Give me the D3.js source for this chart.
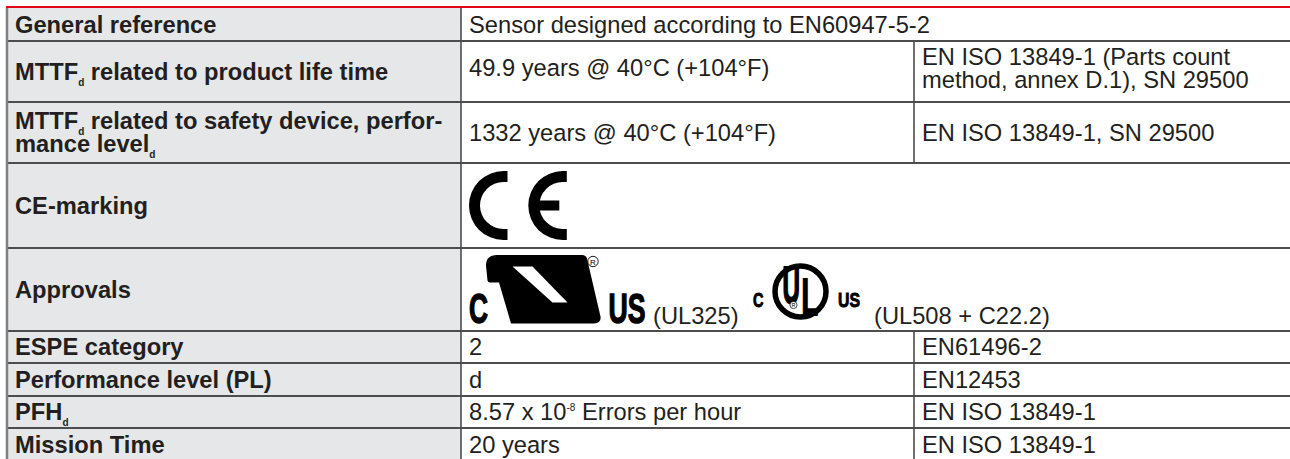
<!DOCTYPE html>
<html>
<head>
<meta charset="utf-8">
<script src="https://cdn.jsdelivr.net/npm/d3@7"></script>
<style>
  html, body { margin: 0; padding: 0; background: #fff; }
  svg { display: block; }
</style>
</head>
<body>
<svg id="table" width="1290" height="459"></svg>
<script>
// Table content: "|" = line break, "_{..}" = subscript, "^{..}" = superscript
const labels = [
    "General reference",
    "MTTF_{d} related to product life time",
    "MTTF_{d} related to safety device, perfor-|mance level_{d}",
    "CE-marking",
    "Approvals",
    "ESPE category",
    "Performance level (PL)",
    "PFH_{d}",
    "Mission Time"
];
const values = [
    "Sensor designed according to EN60947-5-2",
    "49.9 years @ 40°C (+104°F)",
    "1332 years @ 40°C (+104°F)",
    "[CE]",
    "[UL]",
    "2",
    "d",
    "8.57 x 10^{-8} Errors per hour",
    "20 years"
];
const standards = [
    null,
    "EN ISO 13849-1 (Parts count|method, annex D.1), SN 29500",
    "EN ISO 13849-1, SN 29500",
    null,
    null,
    "EN61496-2",
    "EN12453",
    "EN ISO 13849-1",
    "EN ISO 13849-1"
];
const approvalNotes = ["(UL325)", "(UL508 + C22.2)"];

// Layout
const rowHeights = [33, 61, 61, 85, 83, 32, 33, 32, 33];
const tableTop = 8;
const colEdges = [7, 461, 914, 1300]; // left edge, dividers, right edge
const pad = 8;
const fontSize = 23.7;
const lineHeight = 22.7;
const textColor = "#231f20";
const lineColor = "#4d4d4d";

const svg = d3.select("#table");
const rowTops = Array.from(d3.cumsum([tableTop, ...rowHeights])); // [8, 41, 102, ...]
const rowTop = (i) => rowTops[i];
const rowMid = (i) => rowTop(i) + rowHeights[i] / 2;

// Label column background
svg.append("rect")
    .attr("x", colEdges[0])
    .attr("y", tableTop)
    .attr("width", colEdges[1] - colEdges[0])
    .attr("height", 459 - tableTop)
    .attr("fill", "#e6e7e8");

// Write a string with sub/superscripts into a <text> element
const addRich = (textSel, str, small) => {
    let shift = 0;
    str.split(/(_\{[^}]*\}|\^\{[^}]*\})/).filter(s => s.length).forEach(part => {
        let s = 0, txt = part, size = null;
        if (part.startsWith("_{")) { s = 6; txt = part.slice(2, -1); size = small; }
        if (part.startsWith("^{")) { s = -9; txt = part.slice(2, -1); size = small; }
        const t = textSel.append("tspan").attr("dy", s - shift).text(txt);
        if (size) t.attr("font-size", size);
        shift = s;
    });
};

// Draw a (possibly multi-line) cell text, centred vertically in the row
const cellText = (str, x, i, bold, dy = 0) => {
    const lines = str.split("|");
    lines.forEach((line, k) => {
        const y = rowMid(i) + 8.3 + dy - (lines.length - 1) * lineHeight / 2 + k * lineHeight;
        const t = svg.append("text")
            .attr("x", x)
            .attr("y", y)
            .attr("font-family", "'Liberation Sans', Arial, sans-serif")
            .attr("font-size", fontSize)
            .attr("font-weight", bold ? "bold" : "normal")
            .attr("fill", textColor);
        addRich(t, line, 10);
    });
};

labels.forEach((d, i) => cellText(d, colEdges[0] + pad, i, true));
// value cells of the tall rows sit a bit above the centre
values.forEach((d, i) => { if (!d.startsWith("[")) cellText(d, colEdges[1] + pad, i, false, i === 1 ? -4 : 0); });
standards.forEach((d, i) => { if (d) cellText(d, colEdges[2] + pad, i, false, i === 1 ? -3 : 0); });

// CE mark: one letter = partial ring with flat ends
const ceLetter = (cx, cy, R, t, ext) => {
    const p = d3.path();
    p.moveTo(cx + ext, cy - R);
    p.lineTo(cx, cy - R);
    p.arc(cx, cy, R, -Math.PI / 2, Math.PI / 2, true);
    p.lineTo(cx + ext, cy + R);
    p.lineTo(cx + ext, cy + R - t);
    p.lineTo(cx, cy + R - t);
    p.arc(cx, cy, R - t, Math.PI / 2, -Math.PI / 2, false);
    p.lineTo(cx + ext, cy - R + t);
    p.closePath();
    return p.toString();
};

const ceRow = values.indexOf("[CE]");
const ceY = rowMid(ceRow);
const ceR = 34.5, ceT = 11;
const ce = svg.append("g").attr("fill", "#000");
ce.append("path").attr("d", ceLetter(colEdges[1] + pad + ceR, ceY, ceR, ceT, 4));
ce.append("path").attr("d", ceLetter(colEdges[1] + pad + 59.3 + ceR, ceY, ceR, ceT, 4));
ce.append("rect")
    .attr("x", colEdges[1] + pad + 59.3 + ceT - 1)
    .attr("y", ceY - 5)
    .attr("width", 21)
    .attr("height", 10);

// Approval marks
const ulRow = values.indexOf("[UL]");
const ulBase = rowTop(ulRow) + 75.5; // baseline of the marks
const ul = svg.append("g").attr("transform", `translate(${colEdges[1] + pad},${ulBase})`);
const boldFont = "'Liberation Sans', Arial, sans-serif";

// heavy condensed lettering of the marks
const markText = (g, str, x, y, size, width, heavy) => g.append("text")
    .attr("x", x).attr("y", y)
    .attr("font-family", boldFont)
    .attr("font-weight", "bold")
    .attr("font-size", size)
    .attr("textLength", width)
    .attr("lengthAdjust", "spacingAndGlyphs")
    .attr("fill", "#000")
    .attr("stroke", "#000")
    .attr("stroke-width", heavy)
    .text(str);

// cRUus (recognized component)
markText(ul, "C", 0, -0.5, 42, 19, 1.4);
ul.append("path")
    .attr("fill-rule", "evenodd")
    .attr("fill", "#000")
    .attr("d", "M28,-68.5 L113,-68.5 Q117,-68.5 118,-65 L131.5,-7 Q132.5,0 125,0 L42,0 L30,-41 L21,-41 Q19,-41 18.5,-43 L17,-58 Q17,-68.5 28,-68.5 Z " +
               "M43.5,-57 L63.5,-57 L98.5,-21 L83.5,-21 Z");
ul.append("circle").attr("cx", 124).attr("cy", -62).attr("r", 5.2)
    .attr("fill", "none").attr("stroke", "#000").attr("stroke-width", 0.9);
ul.append("text").attr("x", 124).attr("y", -58.6).attr("text-anchor", "middle")
    .attr("font-family", boldFont).attr("font-size", 8).attr("fill", "#000").text("R");
markText(ul, "US", 139.5, -0.5, 42, 37, 1.4);

// cULus (listed)
markText(ul, "C", 284, -16.5, 20, 10.5, 0.9);
ul.append("circle").attr("cx", 331.5).attr("cy", -32).attr("r", 25.5)
    .attr("fill", "none").attr("stroke", "#000").attr("stroke-width", 5.5);
markText(ul, "U", 313.5, -21, 52, 17.5, 2);
markText(ul, "L", 332.5, -8.5, 52, 16.5, 2);
ul.append("circle").attr("cx", 324.5).attr("cy", -18.5).attr("r", 3.6)
    .attr("fill", "#fff").attr("stroke", "#000").attr("stroke-width", 0.7);
ul.append("text").attr("x", 324.5).attr("y", -16.5).attr("text-anchor", "middle")
    .attr("font-family", boldFont).attr("font-size", 5.5).attr("fill", "#000").text("R");
markText(ul, "US", 369, -16.5, 20, 22, 0.9);

// Notes next to the marks
[184, 405].forEach((x, k) => {
    ul.append("text")
        .attr("x", x).attr("y", 0)
        .attr("font-family", boldFont)
        .attr("font-size", fontSize)
        .attr("fill", textColor)
        .text(approvalNotes[k]);
});

// Grid lines
const grid = svg.append("g").attr("stroke", lineColor);
rowTops.slice(1).forEach(y => {
    grid.append("line")
        .attr("x1", colEdges[0]).attr("x2", colEdges[3])
        .attr("y1", y).attr("y2", y)
        .attr("stroke-width", 2);
});
grid.append("line")
    .attr("x1", colEdges[1]).attr("x2", colEdges[1])
    .attr("y1", tableTop).attr("y2", 459)
    .attr("stroke-width", 1.6);
standards.forEach((d, i) => {
    if (!d) return;
    grid.append("line")
        .attr("x1", colEdges[2]).attr("x2", colEdges[2])
        .attr("y1", rowTop(i)).attr("y2", rowTop(i) + rowHeights[i])
        .attr("stroke-width", 1.6);
});
// Left edge of the table
svg.append("line")
    .attr("x1", colEdges[0]).attr("x2", colEdges[0])
    .attr("y1", tableTop).attr("y2", 459)
    .attr("stroke", "#808080")
    .attr("stroke-width", 2.5);
// Red rule on top
svg.append("line")
    .attr("x1", 6).attr("x2", 1290)
    .attr("y1", tableTop - 1).attr("y2", tableTop - 1)
    .attr("stroke", "#e30613")
    .attr("stroke-width", 2.2);
</script>
</body>
</html>
